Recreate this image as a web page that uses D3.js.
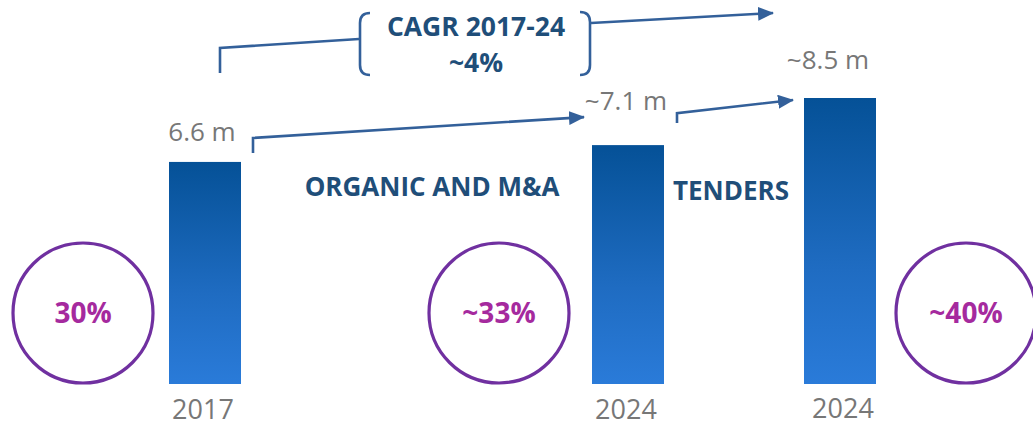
<!DOCTYPE html>
<html>
<head>
<meta charset="utf-8">
<script src="https://cdn.jsdelivr.net/npm/d3@7"></script>
<style>
  html, body { margin: 0; padding: 0; background: #fff; }
  svg { display: block; font-family: "Open Sans", "Noto Sans", sans-serif; }
</style>
</head>
<body>
<svg id="chart" width="1033" height="427"></svg>
<script>
// Revenue base per period (m) and share of the market
const keys = ["2017", "2024-organic", "2024-tenders"];
const yearLabels = ["2017", "2024", "2024"];
const values = [6.6, 7.1, 8.5];
const valueLabels = ["6.6 m", "~7.1 m", "~8.5 m"];
const shareLabels = ["30%", "~33%", "~40%"];
const stepLabels = ["ORGANIC AND M&A", "TENDERS"];
const cagrLabels = ["CAGR 2017-24", "~4%"];

// Layout
const W = 1033, H = 427;
const baseY = 384, barW = 72;
const x = d3.scaleOrdinal().domain(keys).range([205, 628, 840]);
const y = d3.scaleLinear().domain([0, 8.5]).range([baseY, 98]);
const circleX = [83, 499, 966], circleY = 313, circleR = 70;
const valueDx = [-3, -2, -12], valueDy = [-21, -35, -29];
const yearDx = [-2, -2, 3], yearY = [419, 419, 418];

const blue = "#1f4e79", lineC = "#33609a", gray = "#777777", purple = "#7030a0", magenta = "#a52a9e";

const svg = d3.select("#chart");
const defs = svg.append("defs");

const grad = defs.append("linearGradient")
  .attr("id", "barGrad").attr("x1", 0).attr("y1", 0).attr("x2", 0).attr("y2", 1);
grad.append("stop").attr("offset", "0%").attr("stop-color", "#055197");
grad.append("stop").attr("offset", "60%").attr("stop-color", "#1f6cc2");
grad.append("stop").attr("offset", "100%").attr("stop-color", "#2a7bd9");

defs.append("marker")
  .attr("id", "arrow").attr("markerUnits", "userSpaceOnUse")
  .attr("markerWidth", 16).attr("markerHeight", 14)
  .attr("refX", 15).attr("refY", 7).attr("orient", "auto")
  .append("path").attr("d", "M0,0 L16,7 L0,14 Z").attr("fill", lineC);

const data = keys.map((k, i) => ({ key: k, year: yearLabels[i], value: values[i], label: valueLabels[i], share: shareLabels[i], i }));

// Bars
svg.selectAll("rect.bar").data(data).join("rect")
  .attr("class", "bar")
  .attr("x", d => x(d.key) - barW / 2)
  .attr("y", d => y(d.value))
  .attr("width", barW)
  .attr("height", d => baseY - y(d.value))
  .attr("fill", "url(#barGrad)");

// Value labels
svg.selectAll("text.val").data(data).join("text")
  .attr("class", "val")
  .attr("x", d => x(d.key) + valueDx[d.i])
  .attr("y", d => y(d.value) + valueDy[d.i])
  .attr("text-anchor", "middle")
  .attr("font-size", 26).attr("fill", gray)
  .text(d => d.label);

// Year labels
svg.selectAll("text.year").data(data).join("text")
  .attr("class", "year")
  .attr("x", d => x(d.key) + yearDx[d.i])
  .attr("y", d => yearY[d.i])
  .attr("text-anchor", "middle")
  .attr("font-size", 27).attr("fill", gray)
  .text(d => d.year);

// Share circles
svg.selectAll("circle.share").data(data).join("circle")
  .attr("class", "share")
  .attr("cx", d => circleX[d.i]).attr("cy", circleY).attr("r", circleR)
  .attr("fill", "none").attr("stroke", purple).attr("stroke-width", 3.2);

svg.selectAll("text.share").data(data).join("text")
  .attr("class", "share")
  .attr("x", d => circleX[d.i]).attr("y", circleY + 10)
  .attr("text-anchor", "middle")
  .attr("font-size", 28).attr("font-weight", 700).attr("fill", magenta)
  .text(d => d.share);

// Step arrows between bars
const a1x = x(keys[0]) + 48, a2x = x(keys[1]) + 49;
svg.append("path")
  .attr("d", `M${a1x},${y(values[0]) - 9} V${y(values[0]) - 24} L584,${y(values[1]) - 28}`)
  .attr("fill", "none").attr("stroke", lineC).attr("stroke-width", 2.6)
  .attr("marker-end", "url(#arrow)");
svg.append("path")
  .attr("d", `M${a2x},${y(values[1]) - 22} V${y(values[1]) - 32} L793,${y(values[2]) + 2}`)
  .attr("fill", "none").attr("stroke", lineC).attr("stroke-width", 2.6)
  .attr("marker-end", "url(#arrow)");

svg.append("text").attr("x", 432).attr("y", 196).attr("text-anchor", "middle")
  .attr("font-size", 26).attr("font-weight", 700).attr("fill", blue).text(stepLabels[0]);
svg.append("text").attr("x", 731).attr("y", 200).attr("text-anchor", "middle")
  .attr("font-size", 26).attr("font-weight", 700).attr("fill", blue).text(stepLabels[1]);

// CAGR bracket and overall arrow
svg.append("path")
  .attr("d", "M220,73 V48 L359,39")
  .attr("fill", "none").attr("stroke", lineC).attr("stroke-width", 2.6);
svg.append("path")
  .attr("d", "M370,13 Q360,13 360,23 V65 Q360,75 370,75")
  .attr("fill", "none").attr("stroke", lineC).attr("stroke-width", 2.6);
svg.append("path")
  .attr("d", "M580,12 Q590,12 590,22 V65 Q590,75 580,75")
  .attr("fill", "none").attr("stroke", lineC).attr("stroke-width", 2.6);
svg.append("path")
  .attr("d", "M591,23 L773,13")
  .attr("fill", "none").attr("stroke", lineC).attr("stroke-width", 2.6)
  .attr("marker-end", "url(#arrow)");

svg.append("text").attr("x", 476).attr("y", 36).attr("text-anchor", "middle")
  .attr("font-size", 26.5).attr("font-weight", 700).attr("fill", blue).text(cagrLabels[0]);
svg.append("text").attr("x", 476).attr("y", 72).attr("text-anchor", "middle")
  .attr("font-size", 26.5).attr("font-weight", 700).attr("fill", blue).text(cagrLabels[1]);
</script>
</body>
</html>
